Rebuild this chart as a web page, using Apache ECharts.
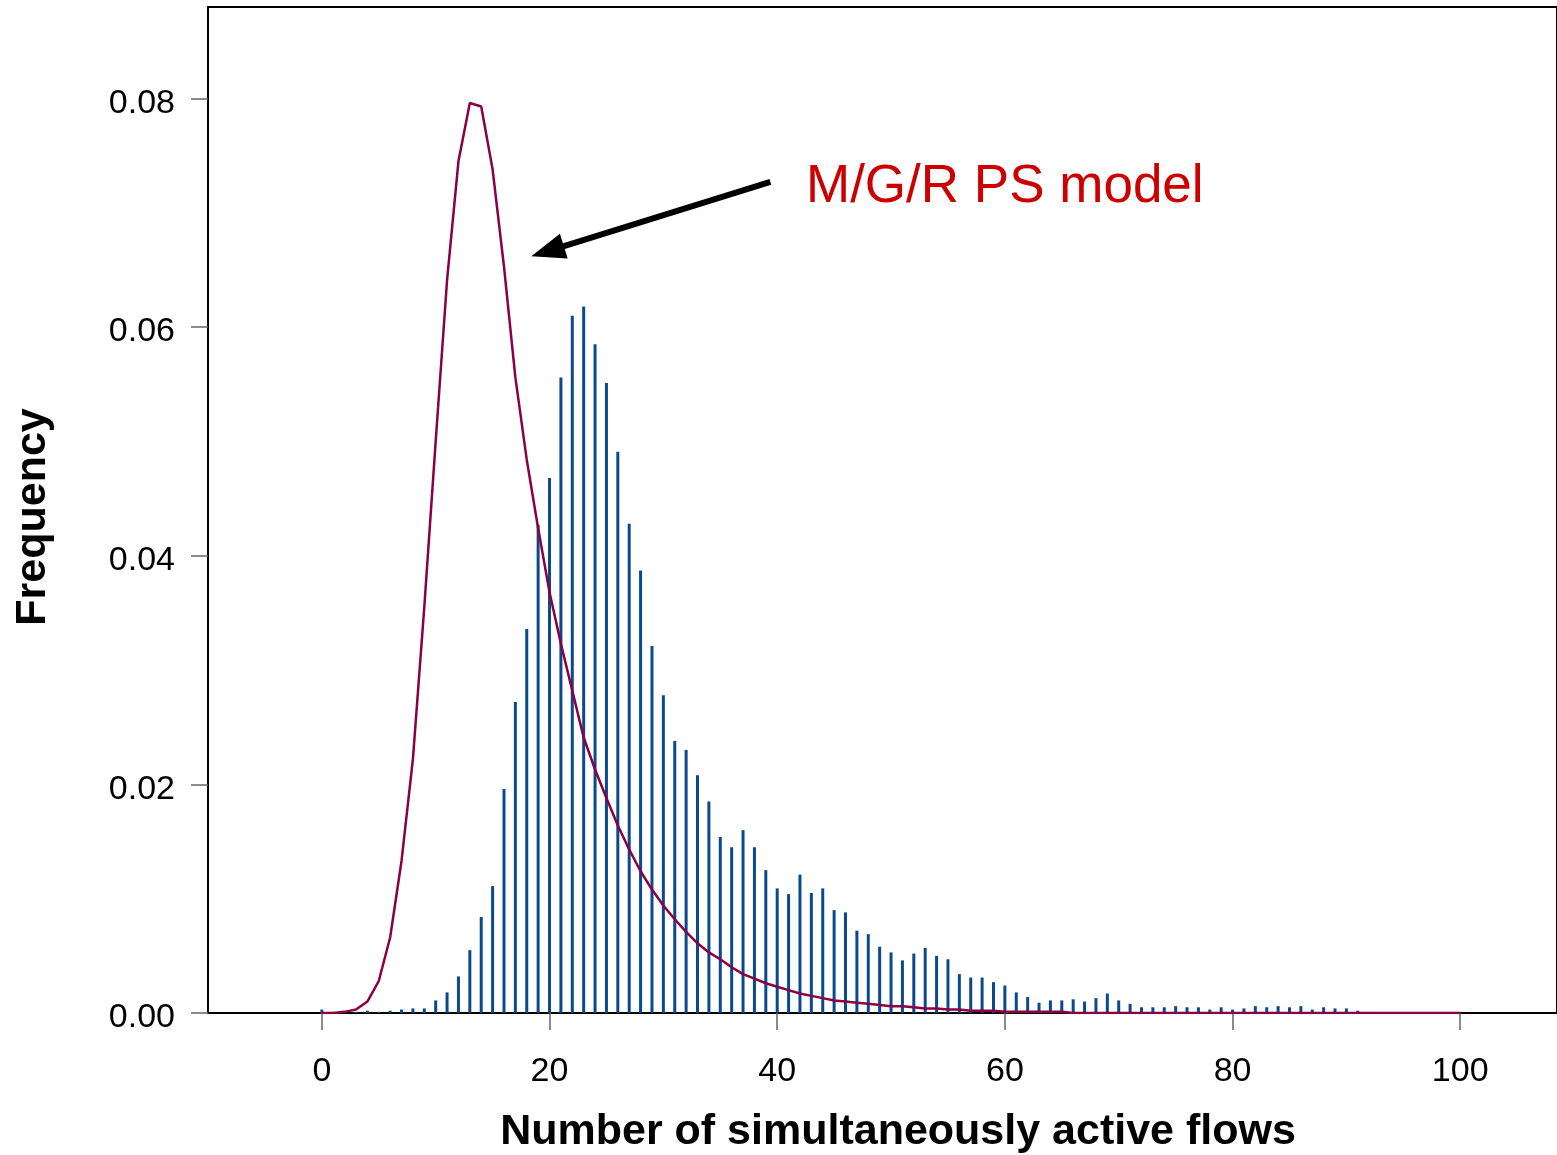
<!DOCTYPE html>
<html>
<head>
<meta charset="utf-8">
<script src="https://cdn.jsdelivr.net/npm/echarts@6/dist/echarts.min.js"></script>
<style>
html,body{margin:0;padding:0;background:#fff;}
#chart{width:1557px;height:1155px;}
</style>
</head>
<body>
<div id="chart"></div>
<script>
// Observed frequency (bars), x = 0..91
const observedX = [];
for (let i = 0; i <= 91; i++) observedX.push(i);
const observedFreq = [
  0.0003, 0.0001, 0.0001, 0.0001, 0.0002, 0.0001, 0.0002, 0.0003, 0.0004, 0.0004,
  0.0011, 0.0018, 0.0032, 0.0055, 0.0084, 0.0111, 0.0196, 0.0272, 0.0336, 0.0427,
  0.0468, 0.0556, 0.0610, 0.0618, 0.0585, 0.0551, 0.0491, 0.0428, 0.0387, 0.0321,
  0.0278, 0.0238, 0.0230, 0.0208, 0.0185, 0.0154, 0.0145, 0.0160, 0.0145, 0.0125,
  0.0109, 0.0104, 0.0121, 0.0105, 0.0109, 0.0090, 0.0088, 0.0072, 0.0069, 0.0058,
  0.0053, 0.0046, 0.0052, 0.0057, 0.0050, 0.0047, 0.0034, 0.0031, 0.0031, 0.0027,
  0.0024, 0.0018, 0.0014, 0.0009, 0.0011, 0.0011, 0.0012, 0.0010, 0.0013, 0.0017,
  0.0011, 0.0008, 0.0005, 0.0005, 0.0005, 0.0006, 0.0005, 0.0005, 0.0003, 0.0005,
  0.0003, 0.0004, 0.0006, 0.0005, 0.0006, 0.0005, 0.0006, 0.0003, 0.0005, 0.0004,
  0.0004, 0.0002
];

// M/G/R PS model curve, x = 0..100
const modelX = [];
for (let i = 0; i <= 100; i++) modelX.push(i);
const modelFreq = [
  0.0000, 0.0000, 0.0001, 0.0003, 0.0010, 0.0028, 0.0066, 0.0133, 0.0222, 0.0355,
  0.0500, 0.0641, 0.0745, 0.0796, 0.0793, 0.0738, 0.0653, 0.0556, 0.0484, 0.0424,
  0.0368, 0.0323, 0.0282, 0.0241, 0.0213, 0.0188, 0.0164, 0.0143, 0.0124, 0.0108,
  0.0094, 0.0082, 0.0071, 0.0061, 0.0053, 0.0047, 0.0040, 0.0034, 0.0030, 0.0026,
  0.0023, 0.0020, 0.0017, 0.0015, 0.0013, 0.0011, 0.0010, 0.0009, 0.0008, 0.0007,
  0.0006, 0.0006, 0.0005, 0.0004, 0.0004, 0.0003, 0.0003, 0.0002, 0.0002, 0.0002,
  0.0001, 0.0001, 0.0001, 0.0001, 0.0001, 0.0001, 0.0000, 0.0000, 0.0000, 0.0000,
  0.0000, 0.0000, 0.0000, 0.0000, 0.0000, 0.0000, 0.0000, 0.0000, 0.0000, 0.0000,
  0.0000, 0.0000, 0.0000, 0.0000, 0.0000, 0.0000, 0.0000, 0.0000, 0.0000, 0.0000,
  0.0000, 0.0000, 0.0000, 0.0000, 0.0000, 0.0000, 0.0000, 0.0000, 0.0000, 0.0000,
  0.0000
];

const xTicks = [0, 20, 40, 60, 80, 100];
const yTicks = [0, 0.02, 0.04, 0.06, 0.08];

const xTitle = 'Number of simultaneously active flows';
const yTitle = 'Frequency';
const annotationText = 'M/G/R PS model';
// annotation arrow (data coords): tail -> tip
const arrowTail = [39.4, 0.0727];
const arrowTip = [18.4, 0.0662];

const FONT = '"Liberation Sans", Arial, sans-serif';

const chart = echarts.init(document.getElementById('chart'), null, {renderer: 'canvas'});

const option = {
  animation: false,
  backgroundColor: '#ffffff',
  grid: {
    left: 208, top: 7, right: 0, bottom: 142,
    show: true, borderColor: '#000', borderWidth: 2, backgroundColor: 'transparent'
  },
  xAxis: {
    type: 'value',
    min: -10, max: 108.5,
    axisLine: {show: true, onZero: false, lineStyle: {color: '#000', width: 2}},
    axisTick: {show: true, customValues: xTicks, length: 17, lineStyle: {color: '#666', width: 1.5}},
    axisLabel: {
      show: true, customValues: xTicks, margin: 42,
      fontSize: 34, color: '#000', fontFamily: FONT
    },
    splitLine: {show: false}
  },
  yAxis: {
    type: 'value',
    min: 0, max: 0.088,
    axisLine: {show: true, onZero: false, lineStyle: {color: '#000', width: 2}},
    axisTick: {show: true, customValues: yTicks, length: 17, lineStyle: {color: '#666', width: 1.5}},
    axisLabel: {
      show: true, customValues: yTicks, margin: 33,
      fontSize: 34, color: '#000', fontFamily: FONT,
      formatter: v => '{t|' + Number(v).toFixed(2) + '}',
      rich: {t: {fontSize: 34, color: '#000', fontFamily: FONT, padding: [10, 0, 0, 0]}}
    },
    splitLine: {show: false}
  },
  series: [
    {
      type: 'bar',
      name: 'observed',
      barWidth: 3,
      itemStyle: {color: '#0a4a8c'},
      data: observedX.map((x, i) => [x, observedFreq[i]]),
      z: 2
    },
    {
      type: 'line',
      name: 'model',
      showSymbol: false,
      symbol: 'none',
      lineStyle: {color: '#8a0046', width: 2.5},
      data: modelX.map((x, i) => [x, modelFreq[i]]),
      z: 3
    }
  ]
};

chart.setOption(option);

// Arrow annotation placed through the chart's own coordinate conversion
const pTail = chart.convertToPixel({gridIndex: 0}, arrowTail);
const pTip = chart.convertToPixel({gridIndex: 0}, arrowTip);
const dx = pTip[0] - pTail[0], dy = pTip[1] - pTail[1];
const len = Math.sqrt(dx * dx + dy * dy);
const ux = dx / len, uy = dy / len;
const headLen = 34, headHalf = 13;
const baseX = pTip[0] - ux * headLen, baseY = pTip[1] - uy * headLen;
const nx = -uy, ny = ux;

chart.setOption({
  graphic: [
    {
      id: 'xtitle', type: 'text', x: 898, y: 1132,
      style: {
        text: xTitle, font: 'bold 43px ' + FONT, fill: '#000',
        textAlign: 'center', textVerticalAlign: 'middle'
      }
    },
    {
      id: 'ytitle', type: 'text', x: 33, y: 517, rotation: Math.PI / 2,
      style: {
        text: yTitle, font: 'bold 43px ' + FONT, fill: '#000',
        textAlign: 'center', textVerticalAlign: 'middle'
      }
    },
    {
      id: 'annot', type: 'text', x: 806, y: 187,
      style: {
        text: annotationText, font: '53px ' + FONT, fill: '#cc0000',
        textAlign: 'left', textVerticalAlign: 'middle'
      }
    },
    {
      id: 'arrowShaft', type: 'line', z: 100,
      shape: {x1: pTail[0], y1: pTail[1], x2: baseX + ux * 4, y2: baseY + uy * 4},
      style: {stroke: '#000', lineWidth: 6}
    },
    {
      id: 'arrowHead', type: 'polygon', z: 100,
      shape: {points: [
        [pTip[0], pTip[1]],
        [baseX + nx * headHalf, baseY + ny * headHalf],
        [baseX - nx * headHalf, baseY - ny * headHalf]
      ]},
      style: {fill: '#000'}
    }
  ]
});
</script>
</body>
</html>
